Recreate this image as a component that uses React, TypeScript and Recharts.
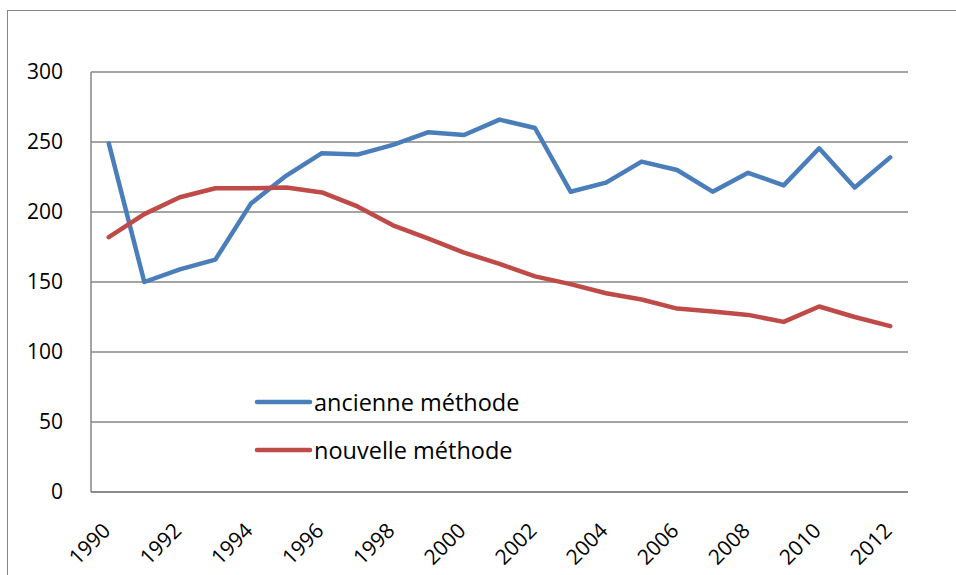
import React from 'react'
import {
  LineChart,
  Line,
  XAxis,
  YAxis,
  CartesianGrid,
  Legend,
} from 'recharts'

const years = [
  '1990', '1991', '1992', '1993', '1994', '1995', '1996', '1997', '1998', '1999', '2000', '2001',
  '2002', '2003', '2004', '2005', '2006', '2007', '2008', '2009', '2010', '2011', '2012',
]
const ancienne = [
  249, 150, 159, 166, 206, 226, 242, 241, 248, 257, 255, 266,
  260, 214.5, 221, 236, 230, 214.5, 228, 219, 245.5, 217.5, 239,
]
const nouvelle = [
  182, 198.5, 210.5, 217, 217, 217.5, 214, 204, 190.5, 181, 171, 163,
  154, 148.5, 142, 137.5, 131, 129, 126.5, 121.5, 132.5, 125, 118.5,
]
const yTicks = [0, 50, 100, 150, 200, 250, 300]

const series = [
  { key: 'ancienne', name: 'ancienne méthode', color: '#4A7EBB' },
  { key: 'nouvelle', name: 'nouvelle méthode', color: '#BE4B48' },
]

const data = years.map((year, i) => ({
  year,
  ancienne: ancienne[i],
  nouvelle: nouvelle[i],
}))

const FONT = '"Open Sans", sans-serif'
const GRID = '#868686'

// labels de l'axe X inclinés à -45°
const YearTick = (props: any) => {
  const { x, y, payload } = props
  return (
    <g transform={`translate(${x + 3},${y + 32})`}>
      <text
        textAnchor="end"
        transform="rotate(-45)"
        fontSize={21}
        fill="#000"
        fontFamily={FONT}
      >
        {payload.value}
      </text>
    </g>
  )
}

const renderLegend = () => (
  <div style={{ fontFamily: FONT }}>
    {series.map(s => (
      <div key={s.key} style={{ display: 'flex', alignItems: 'center', height: 48 }}>
        <svg width={60} height={10}>
          <line x1={3} x2={56} y1={5} y2={5} stroke={s.color} strokeWidth={4.5} strokeLinecap="round" />
        </svg>
        <span style={{ fontSize: 23.5, color: '#000', marginLeft: 0 }}>{s.name}</span>
      </div>
    ))}
  </div>
)

export default function App() {
  return (
    <div
      style={{
        position: 'absolute',
        left: 0,
        top: 0,
        width: 956,
        height: 575,
        overflow: 'hidden',
        background: '#fff',
      }}
    >
      {/* cadre extérieur */}
      <div
        style={{
          position: 'absolute',
          left: 7,
          top: 10,
          width: 1000,
          height: 600,
          borderLeft: `1.5px solid ${GRID}`,
          borderTop: `1.5px solid ${GRID}`,
        }}
      />
      <LineChart
        width={956}
        height={575}
        data={data}
        margin={{ top: 72, right: 48, left: 0, bottom: 0 }}
        style={{ position: 'absolute', left: 0, top: 0, fontFamily: FONT }}
      >
        <CartesianGrid vertical={false} stroke={GRID} strokeWidth={1.5} />
        <XAxis
          dataKey="year"
          height={83}
          interval={1}
          padding={{ left: 17.8, right: 17.8 }}
          tickLine={false}
          axisLine={{ stroke: GRID, strokeWidth: 1.5 }}
          tick={<YearTick />}
        />
        <YAxis
          width={91}
          domain={[0, 300]}
          ticks={yTicks}
          tickLine={false}
          tickMargin={22}
          axisLine={{ stroke: GRID, strokeWidth: 1.5 }}
          tick={{ fontSize: 21, fill: '#000', fontFamily: FONT }}
        />
        <Legend
          layout="vertical"
          align="center"
          verticalAlign="middle"
          content={renderLegend}
          wrapperStyle={{ left: 254, top: 378, width: 'auto' }}
        />
        {series.map(s => (
          <Line
            key={s.key}
            type="linear"
            dataKey={s.key}
            name={s.name}
            stroke={s.color}
            strokeWidth={4.5}
            strokeLinecap="round"
            strokeLinejoin="round"
            dot={false}
            activeDot={false}
            isAnimationActive={false}
          />
        ))}
      </LineChart>
    </div>
  )
}
